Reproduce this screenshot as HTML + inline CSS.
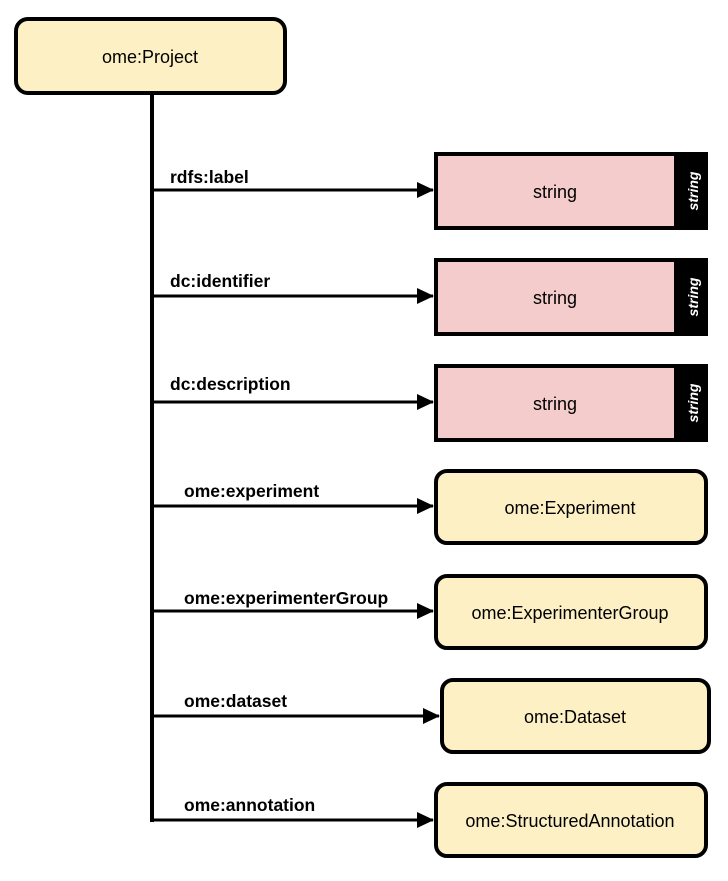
<!DOCTYPE html>
<html><head><style>
body{margin:0;background:#fff;width:728px;height:876px;overflow:hidden;font-family:"Liberation Sans",Arial,sans-serif}
</style></head><body>
<svg width="728" height="876" xmlns="http://www.w3.org/2000/svg" font-family="Liberation Sans, Arial, sans-serif">
<defs><marker id="a" markerWidth="17" markerHeight="16" refX="16" refY="8" orient="auto" markerUnits="userSpaceOnUse"><path d="M0,0 L17,8 L0,16 Z" fill="#000"/></marker></defs>
<rect x="16" y="19" width="269" height="74" rx="12" fill="#fdf0c4" stroke="#000" stroke-width="4"/>
<text x="150" y="63" font-size="18" text-anchor="middle">ome:Project</text>
<line x1="152" y1="93" x2="152" y2="822" stroke="#000" stroke-width="4"/>
<g stroke="#000" stroke-width="3" marker-end="url(#a)">
<line x1="150" y1="190" x2="433" y2="190"/>
<line x1="150" y1="296" x2="433" y2="296"/>
<line x1="150" y1="402" x2="433" y2="402"/>
<line x1="150" y1="506" x2="433" y2="506"/>
<line x1="150" y1="611" x2="433" y2="611"/>
<line x1="150" y1="716" x2="439" y2="716"/>
<line x1="150" y1="820" x2="433" y2="820"/>
</g>
<g font-size="17.5" font-weight="bold">
<text x="170" y="183">rdfs:label</text>
<text x="170" y="287">dc:identifier</text>
<text x="170" y="390">dc:description</text>
<text x="184" y="497">ome:experiment</text>
<text x="184" y="604">ome:experimenterGroup</text>
<text x="184" y="707">ome:dataset</text>
<text x="184" y="811">ome:annotation</text>
</g>
<g>
<rect x="434" y="152" width="274" height="78" fill="#000"/><rect x="438" y="156" width="236" height="70" fill="#f5cccc"/>
<text x="555" y="198" font-size="18" text-anchor="middle">string</text>
<text transform="translate(698,191) rotate(-90)" font-size="14" font-weight="bold" font-style="italic" fill="#fff" text-anchor="middle">string</text>
<rect x="434" y="258" width="274" height="78" fill="#000"/><rect x="438" y="262" width="236" height="70" fill="#f5cccc"/>
<text x="555" y="304" font-size="18" text-anchor="middle">string</text>
<text transform="translate(698,297) rotate(-90)" font-size="14" font-weight="bold" font-style="italic" fill="#fff" text-anchor="middle">string</text>
<rect x="434" y="364" width="274" height="78" fill="#000"/><rect x="438" y="368" width="236" height="70" fill="#f5cccc"/>
<text x="555" y="410" font-size="18" text-anchor="middle">string</text>
<text transform="translate(698,403) rotate(-90)" font-size="14" font-weight="bold" font-style="italic" fill="#fff" text-anchor="middle">string</text>
</g>
<g fill="#fdf0c4" stroke="#000" stroke-width="4">
<rect x="436" y="471" width="270" height="72" rx="11"/>
<rect x="436" y="576" width="270" height="72" rx="11"/>
<rect x="442" y="680" width="267" height="72" rx="11"/>
<rect x="436" y="784" width="270" height="72" rx="11"/>
</g>
<g font-size="18" text-anchor="middle">
<text x="570" y="514">ome:Experiment</text>
<text x="570" y="619">ome:ExperimenterGroup</text>
<text x="575" y="723">ome:Dataset</text>
<text x="570" y="827">ome:StructuredAnnotation</text>
</g>
</svg>
</body></html>
